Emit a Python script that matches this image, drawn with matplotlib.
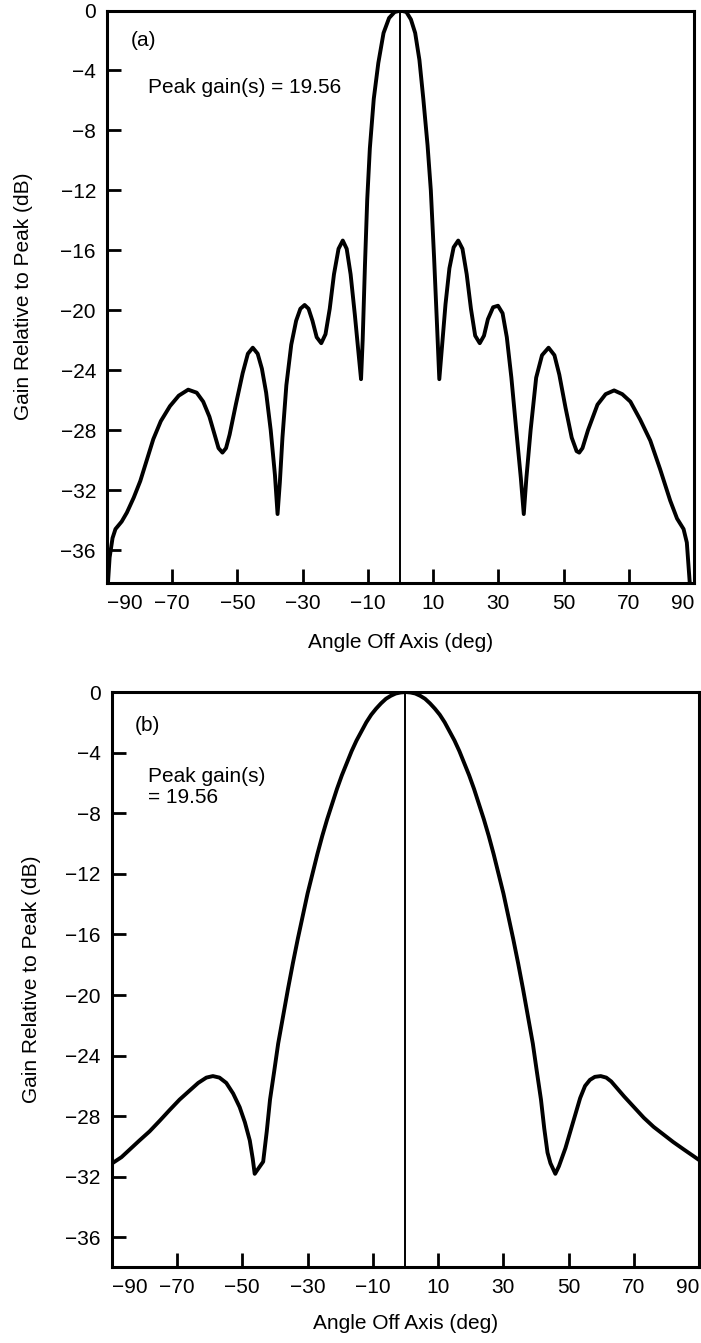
import matplotlib
matplotlib.use("Agg")
import matplotlib.pyplot as plt

plt.rcParams['font.family'] = ['Liberation Sans', 'DejaVu Sans']

# ---- data (a) ----
ang_a = [-89.7, -89.2, -88.3, -87.4, -85.5, -83.9, -81.8, -79.8, -77.8, -75.8, -73.5, -70.7,
         -68.0, -65.1, -62.5, -60.5, -58.6, -57.0, -55.8, -54.6, -53.5, -52.4, -50.5, -48.4,
         -46.8, -45.3, -43.8, -42.5, -41.2, -39.8, -38.5, -37.7, -37.0, -36.2, -35.0, -33.5,
         -32.0, -30.7, -29.4, -28.2, -27.0, -25.7, -24.3, -23.0, -21.7, -20.4, -19.0, -17.7,
         -16.5, -15.3, -14.0, -12.9, -12.1, -11.6, -10.9, -10.2, -9.4, -8.2, -6.8, -5.2,
         -3.5, -1.8, 0.1, 1.8, 3.2, 4.5, 5.8, 7.0, 8.3, 9.3, 10.3, 11.2, 11.9, 12.7, 13.8,
         15.0, 16.3, 17.7, 19.0, 20.3, 21.6, 22.9, 24.3, 25.6, 26.8, 28.4, 29.9, 31.3, 32.6,
         34.0, 35.5, 36.9, 37.8, 38.6, 39.9, 41.6, 43.4, 45.4, 47.2, 48.7, 50.6, 52.5, 54.0,
         54.8, 55.8, 57.5, 60.4, 62.9, 65.5, 68.0, 70.5, 73.5, 76.6, 79.6, 82.7, 84.8, 86.8,
         87.8, 88.7]
gain_a = [-38.2, -36.5, -35.2, -34.6, -34.1, -33.5, -32.5, -31.4, -30.0, -28.6, -27.4, -26.4,
          -25.7, -25.3, -25.5, -26.1, -27.1, -28.3, -29.2, -29.5, -29.2, -28.3, -26.3, -24.2,
          -22.9, -22.5, -22.9, -23.9, -25.5, -28.0, -31.0, -33.6, -31.5, -28.5, -25.0, -22.3,
          -20.7, -19.9, -19.65, -19.9, -20.7, -21.8, -22.2, -21.6, -19.9, -17.6, -15.9, -15.35,
          -15.9, -17.6, -20.3, -22.8, -24.6, -22.0, -17.0, -12.6, -9.2, -5.9, -3.5, -1.5,
          -0.5, -0.1, 0.0, -0.1, -0.6, -1.5, -3.3, -5.9, -9.0, -12.0, -16.5, -21.0, -24.6, -22.5, -19.6,
          -17.2, -15.8, -15.35, -15.9, -17.6, -19.9, -21.7, -22.2, -21.7, -20.6, -19.8, -19.7, -20.2, -21.8,
          -24.5, -28.0, -31.2, -33.6, -31.2, -28.0, -24.5, -23.0, -22.5, -23.0, -24.3, -26.5, -28.5, -29.4,
          -29.5, -29.2, -28.0, -26.3, -25.6, -25.35, -25.6, -26.1, -27.3, -28.7, -30.6, -32.7, -33.9, -34.6,
          -35.5, -38.2]

# ---- data (b) ----
ang_b = [-89.8, -87.0, -84.5, -81.5, -78.4, -75.3, -72.3, -69.2, -66.1, -63.5, -61.0, -59.0,
         -57.0, -54.9, -52.8, -50.8, -49.2, -47.7, -46.8, -46.2, -44.9, -43.6, -42.5, -41.5,
         -40.2, -39.0, -37.5, -36.0, -34.5, -33.0, -31.5, -30.0, -28.5, -27.0, -25.5, -24.0,
         -22.5, -21.0, -19.5, -18.0, -16.5, -15.0, -13.5, -12.0, -10.5, -9.0, -7.5, -6.0,
         -4.5, -3.0, -1.5, 0.0, 1.5, 3.0, 4.5, 6.0, 7.5, 9.0, 10.5, 12.0, 13.5, 15.0,
         16.5, 18.0, 19.5, 21.0, 22.5, 24.0, 25.5, 27.0, 28.5, 30.0, 31.5, 33.0, 34.5, 36.0,
         37.5, 39.0, 40.2, 41.5, 42.5, 43.5, 44.4, 45.9, 47.0, 48.0, 49.0, 50.5, 52.0, 53.5,
         55.0, 56.5, 58.0, 59.8, 61.5, 63.0, 65.0, 67.0, 70.0, 73.0, 76.0, 79.0, 82.0, 85.3,
         88.0, 90.0]
gain_b = [-31.1, -30.7, -30.2, -29.6, -29.0, -28.3, -27.6, -26.9, -26.3, -25.8, -25.45, -25.35,
          -25.45, -25.8, -26.5, -27.4, -28.4, -29.6, -30.8, -31.8, -31.4, -31.0, -29.0, -26.9,
          -25.0, -23.2, -21.4, -19.6, -17.9, -16.3, -14.8, -13.3, -12.0, -10.7, -9.5, -8.4,
          -7.4, -6.4, -5.5, -4.7, -3.9, -3.2, -2.6, -2.0, -1.5, -1.1, -0.75, -0.45,
          -0.25, -0.1, -0.03, 0.0, -0.03, -0.1, -0.25, -0.45, -0.75, -1.1, -1.5, -2.0, -2.6, -3.2,
          -3.9, -4.7, -5.5, -6.4, -7.4, -8.4, -9.5, -10.7, -12.0, -13.3, -14.8, -16.3, -17.9, -19.6,
          -21.4, -23.2, -25.0, -26.9, -28.8, -30.4, -31.1, -31.8, -31.3, -30.7, -30.1, -29.0, -27.9, -26.8,
          -26.0, -25.6, -25.4, -25.35, -25.45, -25.7, -26.2, -26.7, -27.4, -28.1, -28.7, -29.2, -29.7, -30.2,
          -30.6, -30.9]

yticks = [0, -4, -8, -12, -16, -20, -24, -28, -32, -36]
xticks = [-90, -70, -50, -30, -10, 10, 30, 50, 70, 90]
xlabel = "Angle Off Axis (deg)"
ylabel = "Gain Relative to Peak (dB)"

W, H = 701, 1343
fig = plt.figure(figsize=(W / 100, H / 100), dpi=100)

def make_axes(rect, ang, gain, ylim, tag, tag_y, peak_text, peak_xy, ylpad, xlpad):
    ax = fig.add_axes(rect)
    ax.plot(ang, gain, color='black', lw=2.8, solid_joinstyle='round', solid_capstyle='round')
    ax.axvline(0, color='black', lw=1.4)
    ax.set_xlim(-90, 90)
    ax.set_ylim(*ylim)
    ax.set_xticks(xticks)
    ax.set_xticklabels([f"\u2212{abs(v)}" if v < 0 else str(v) for v in xticks])
    ax.set_yticks(yticks)
    ax.set_yticklabels([f"\u2212{abs(v)}" if v < 0 else str(v) for v in yticks])
    ax.tick_params(direction='in', length=10, width=2.0, labelsize=15, pad=8, color='black')
    for s in ax.spines.values():
        s.set_linewidth(2.2)
        s.set_color('black')
    labs = ax.get_xticklabels()
    labs[0].set_horizontalalignment('left')
    labs[-1].set_horizontalalignment('right')
    ax.set_xlabel(xlabel, fontsize=15, labelpad=xlpad)
    ax.set_ylabel(ylabel, fontsize=15, labelpad=ylpad)
    ax.text(0.04, tag_y, tag, transform=ax.transAxes, fontsize=15, va='center', ha='left')
    ax.text(peak_xy[0], peak_xy[1], peak_text, transform=ax.transAxes, fontsize=15,
            va='center', ha='left', linespacing=1.1)
    return ax

ax1 = make_axes([107 / W, 1 - 583 / H, 587 / W, 572.5 / H], ang_a, gain_a, (-38.2, 0), "(a)", 0.948,
                "Peak gain(s) = 19.56", (0.07, 0.866), 20, 14)
ax2 = make_axes([111.7 / W, 1 - 1267 / H, 587.6 / W, 575 / H], ang_b, gain_b, (-37.95, 0), "(b)", 0.941,
                "Peak gain(s)\n= 19.56", (0.062, 0.835), 17, 12)

fig.savefig("out.png", dpi=100)
